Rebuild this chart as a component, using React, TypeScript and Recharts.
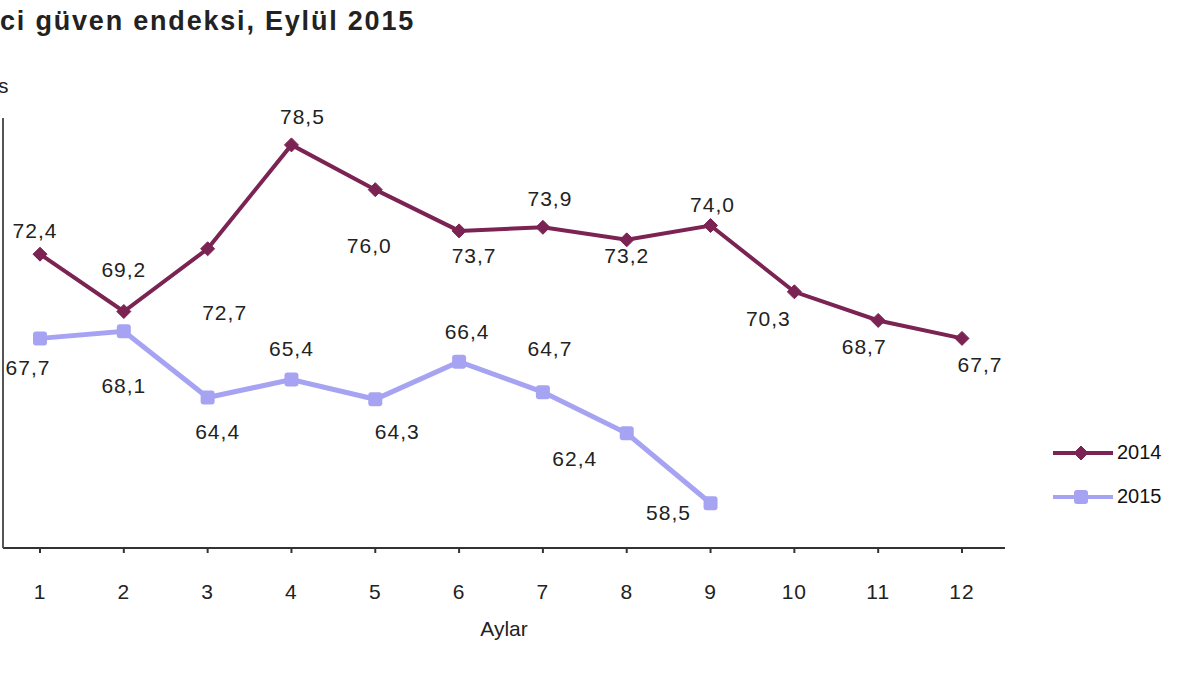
import { LineChart, Line, XAxis, YAxis } from 'recharts';

const months = ['1', '2', '3', '4', '5', '6', '7', '8', '9', '10', '11', '12'];
const values2014 = [72.4, 69.2, 72.7, 78.5, 76.0, 73.7, 73.9, 73.2, 74.0, 70.3, 68.7, 67.7];
const values2015 = [67.7, 68.1, 64.4, 65.4, 64.3, 66.4, 64.7, 62.4, 58.5];

// where each value label sits relative to its point (dx, dy)
const labelOffsets2014 = [
  [-5, -22], [0, -40], [17, 66], [11, -26], [-6, 58], [15, 27], [7, -27], [0, 18], [2, -19], [-26, 29], [-14, 28], [18, 28],
];
const labelOffsets2015 = [
  [-12, 31], [0, 56], [10, 36], [0, -29], [22, 34], [8, -28], [7, -42], [-52, 27], [-42, 11],
];

const COLOR_2014 = '#7b2352';
const COLOR_2015 = '#a7a3f3';
const FONT = 'Arial, "Liberation Sans", sans-serif';

const chartData = months.map((m, i) => ({
  month: m,
  y2014: values2014[i],
  y2015: i < values2015.length ? values2015[i] : null,
}));

const fmt = (v: number) => v.toFixed(1).replace('.', ',');

function Diamond({ cx, cy }: any) {
  if (cx == null || cy == null) return null;
  const r = 7;
  return (
    <path
      d={`M${cx},${cy - r} L${cx + r},${cy} L${cx},${cy + r} L${cx - r},${cy} Z`}
      fill={COLOR_2014}
      stroke={COLOR_2014}
      strokeWidth={1}
    />
  );
}

function Square({ cx, cy }: any) {
  if (cx == null || cy == null) return null;
  const s = 14;
  return <rect x={cx - s / 2} y={cy - s / 2} width={s} height={s} rx={3} fill={COLOR_2015} />;
}

const makeLabel = (offsets: number[][]) => (props: any) => {
  const { x, y, value, index } = props;
  if (value == null) return null;
  const [dx, dy] = offsets[index] || [0, -15];
  return (
    <text
      x={x + dx}
      y={y + dy}
      textAnchor="middle"
      dominantBaseline="middle"
      fontFamily={FONT}
      fontSize={21}
      letterSpacing={1}
      fill="#222"
    >
      {fmt(value)}
    </text>
  );
};

function LegendBox() {
  const items = [
    { name: '2014', color: COLOR_2014, dot: <Diamond cx={28} cy={0} /> },
    { name: '2015', color: COLOR_2015, dot: <Square cx={28} cy={0} /> },
  ];
  return (
    <svg width={140} height={90}>
      {items.map((it, i) => (
        <g key={it.name} transform={`translate(0, ${18 + i * 44})`}>
          <line x1={0} y1={0} x2={60} y2={0} stroke={it.color} strokeWidth={4} />
          {it.dot}
          <text x={64} y={1} dominantBaseline="middle" fontFamily={FONT} fontSize={20} fill="#111" letterSpacing={0}>
            {it.name}
          </text>
        </g>
      ))}
    </svg>
  );
}

export default function App() {
  return (
    <div style={{ position: 'fixed', left: 0, top: 0, width: 1200, height: 675, background: '#fff', overflow: 'hidden' }}>
      <div
        style={{
          position: 'absolute',
          left: 0,
          top: 6,
          fontFamily: FONT,
          fontWeight: 'bold',
          fontSize: 27,
          letterSpacing: 1.8,
          color: '#222',
          whiteSpace: 'nowrap',
        }}
      >
        ci güven endeksi, Eylül 2015
      </div>
      <div style={{ position: 'absolute', left: -2, top: 74, fontFamily: FONT, fontSize: 21, color: '#222' }}>s</div>
      <LineChart
        width={1200}
        height={675}
        data={chartData}
        margin={{ top: 118, left: 0, right: 195, bottom: 0 }}
      >
        <XAxis
          dataKey="month"
          padding={{ left: 37, right: 43 }}
          axisLine={{ stroke: '#333', strokeWidth: 2 }}
          tickLine={{ stroke: '#333', strokeWidth: 2 }}
          tickSize={5}
          tickMargin={31}
          tick={{ fontFamily: FONT, fontSize: 21, fill: '#222', letterSpacing: 1 }}
          interval={0}
          height={127}
          label={{ value: 'Aylar', position: 'insideTop', dy: 68, fontFamily: FONT, fontSize: 21, fill: '#222' }}
        />
        <YAxis
          domain={[56, 80]}
          width={3}
          tick={false}
          tickLine={false}
          axisLine={{ stroke: '#555', strokeWidth: 2 }}
        />
        <Line
          dataKey="y2014"
          stroke={COLOR_2014}
          strokeWidth={4}
          dot={<Diamond />}
          activeDot={false}
          label={makeLabel(labelOffsets2014)}
          isAnimationActive={false}
        />
        <Line
          dataKey="y2015"
          stroke={COLOR_2015}
          strokeWidth={5}
          dot={<Square />}
          activeDot={false}
          label={makeLabel(labelOffsets2015)}
          isAnimationActive={false}
          connectNulls={false}
        />
      </LineChart>
      <div style={{ position: 'absolute', left: 1053, top: 435 }}>
        <LegendBox />
      </div>
    </div>
  );
}
